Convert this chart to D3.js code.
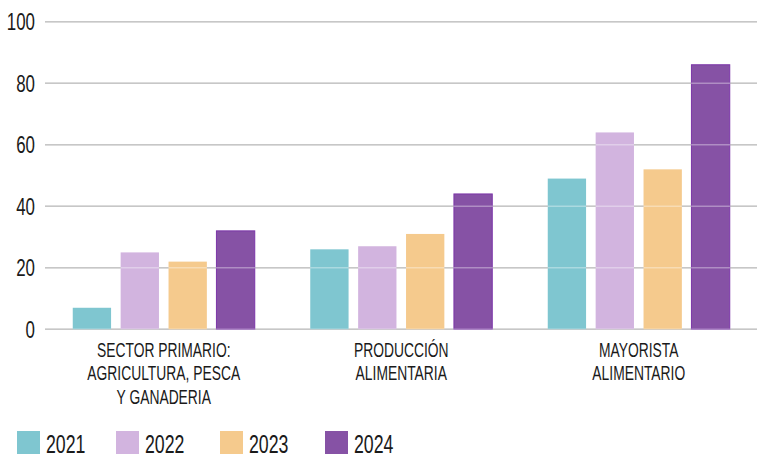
<!DOCTYPE html>
<html>
<head>
<meta charset="utf-8">
<script src="https://cdn.jsdelivr.net/npm/d3@7"></script>
<style>
  body { margin: 0; background: #fff; }
  text { font-family: "Liberation Sans Narrow", "Arial Narrow", sans-serif; fill: #1a1a1a; }
</style>
</head>
<body>
<svg id="chart"></svg>
<script>
// data
var categories = [
  ["SECTOR PRIMARIO:", "AGRICULTURA, PESCA", "Y GANADERIA"],
  ["PRODUCCIÓN", "ALIMENTARIA"],
  ["MAYORISTA", "ALIMENTARIO"]
];
var years = ["2021", "2022", "2023", "2024"];
var v2021 = [7, 26, 49];
var v2022 = [25, 27, 64];
var v2023 = [22, 31, 52];
var v2024 = [32, 44, 86];
var yTicks = [0, 20, 40, 60, 80, 100];
var colors = ["#7fc6d0", "#d2b4df", "#f5ca8d", "#8652a5"];

var series = [v2021, v2022, v2023, v2024];

var width = 757, height = 456;
var svg = d3.select("#chart").attr("width", width).attr("height", height);

var x0 = d3.scaleBand().domain(d3.range(categories.length)).range([45, 757.5]).padding(0);
var x1 = d3.scaleBand().domain(years)
  .range([27.75, x0.bandwidth() - 27.75]).paddingInner(0.2).paddingOuter(0);
var y = d3.scaleLinear().domain([0, 100]).range([329.3, 21.7]);

// grid
var grid = svg.append("g")
grid.selectAll("line").data(yTicks).enter().append("line")
  .attr("x1", 45).attr("x2", width)
  .attr("y1", d => y(d)).attr("y2", d => y(d))
  .attr("stroke", "#a9a9a9").attr("stroke-width", 1.5)

// y labels
var yAxis = d3.axisLeft(y).tickValues(yTicks).tickSize(0).tickPadding(0)
var ya = svg.append("g").attr("transform", "translate(35,0)").call(yAxis)
ya.select(".domain").remove()
ya.selectAll("text")
  .attr("x", 0)
  .attr("dy", "0.33em")
  .style("font-size", "24.5px")
  .style("font-family", null)
  .attr("fill", "#1a1a1a")
  .attr("transform", "scale(0.69,1)")

// bars
var groups = svg.append("g").selectAll("g").data(categories).enter().append("g")
  .attr("transform", (d, i) => "translate(" + x0(i) + ",0)")

groups.each(function (c, ci) {
  var g = d3.select(this)
  years.forEach(function (yr, si) {
    var val = series[si][ci]
    g.append("rect")
      .attr("x", x1(yr))
      .attr("y", y(val))
      .attr("width", x1.bandwidth())
      .attr("height", y(0) - y(val))
      .attr("fill", colors[si])
      .attr("stroke", si === 3 ? "#7b35a8" : "none")
      .attr("stroke-width", 1)
  })
})

// faint grid showing through the bars
svg.append("g").selectAll("line").data(yTicks).enter().append("line")
  .attr("x1", 45).attr("x2", width)
  .attr("y1", d => y(d)).attr("y2", d => y(d))
  .attr("stroke", "#fff").attr("stroke-opacity", 0.35).attr("stroke-width", 1.5)

// category labels
var lab = svg.append("g").selectAll("text").data(categories).enter().append("text")
  .attr("text-anchor", "middle")
  .attr("transform", (d, i) => "translate(" + (x0(i) + x0.bandwidth() / 2) + ",357) scale(0.71,1)")
  .style("font-size", "19.5px")
lab.selectAll("tspan").data(d => d).enter().append("tspan")
  .attr("x", 0)
  .attr("dy", (d, i) => i === 0 ? 0 : 23.3)
  .text(d => d)

// legend
var legX = [17, 116, 220, 325]
var leg = svg.append("g").selectAll("g").data(years).enter().append("g")
  .attr("transform", (d, i) => "translate(" + legX[i] + ",431)")
leg.append("rect").attr("width", 23).attr("height", 23)
  .attr("fill", (d, i) => colors[i])
leg.append("text")
  .attr("transform", "translate(29,22) scale(0.71,1)")
  .style("font-size", "25px")
  .text(d => d)
</script>
</body>
</html>
